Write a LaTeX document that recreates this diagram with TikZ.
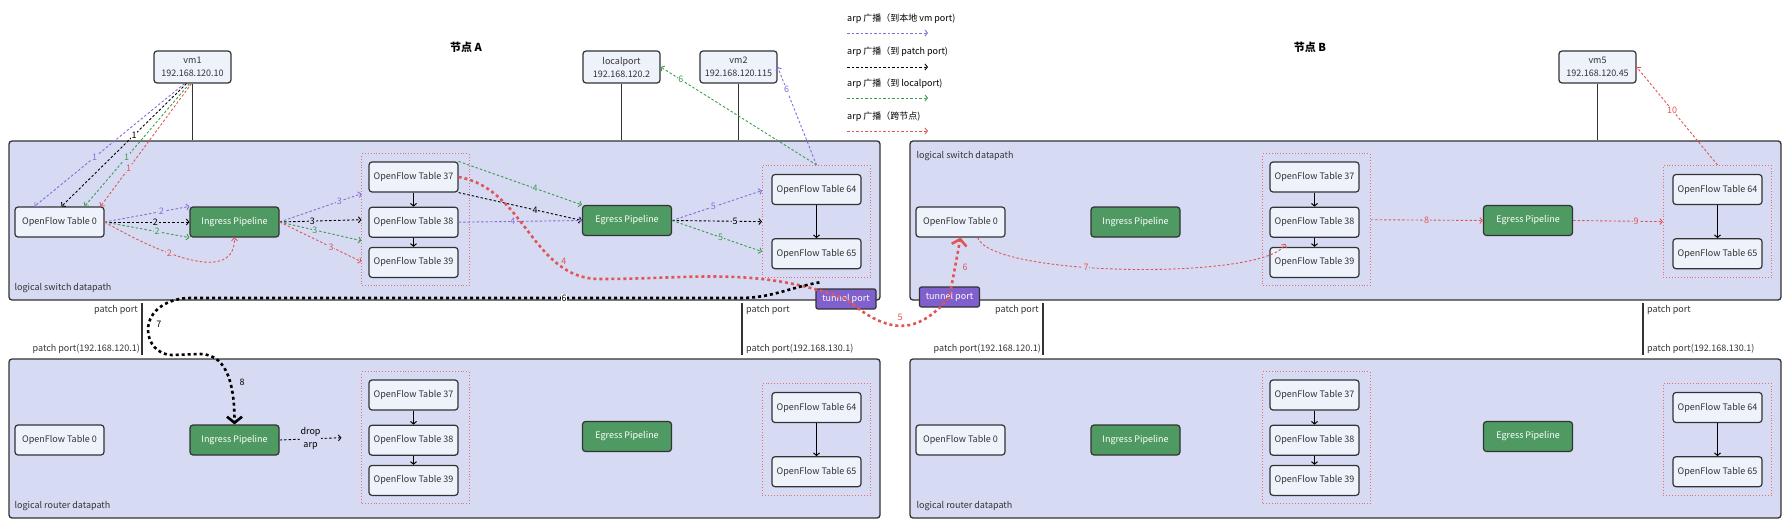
\documentclass[tikz,border=0pt]{standalone}
\usepackage{fontspec}
\setmainfont{Noto Sans CJK SC}
\usepackage{xcolor}
\usepackage{tikz}
\usetikzlibrary{arrows.meta,positioning,fit,calc}

\definecolor{dpfill}{HTML}{D6DBF3}
\definecolor{tblfill}{HTML}{EEF2FB}
\definecolor{pipefill}{HTML}{4F9A62}
\definecolor{tunfill}{HTML}{8060CC}
\definecolor{edge}{HTML}{333333}
\definecolor{arpvm}{HTML}{8A6AD8}
\definecolor{arplp}{HTML}{3D9B4C}
\definecolor{arpx}{HTML}{E25555}

\begin{document}
\begin{tikzpicture}[
    x=1pt, y=-1pt,
    font=\fontsize{9}{10.5}\selectfont,
    node distance=15pt,
    datapath/.style={rectangle, draw=edge, fill=dpfill, line width=1.3pt, rounded corners=3pt, minimum width=871pt, minimum height=159pt},
    oftable/.style={rectangle, draw=edge, fill=tblfill, line width=1.2pt, rounded corners=3pt, minimum width=89pt, minimum height=30pt, text=edge},
    pipe/.style={oftable, fill=pipefill, text=white},
    vmbox/.style={oftable, minimum width=77pt, minimum height=32pt, align=center, font=\fontsize{9}{13}\selectfont},
    tunnel/.style={rectangle, draw=edge, fill=tunfill, line width=1.2pt, rounded corners=2pt, minimum width=60pt, minimum height=20pt, inner sep=1pt, text=white},
    tblgroup/.style={rectangle, draw=arpx!85, dotted, line width=0.9pt, inner xsep=8.5pt, inner ysep=7.5pt},
    dplabel/.style={text=edge, inner sep=1pt},
    link/.style={draw=edge, line width=1.2pt},
    nextarr/.style={draw=black, line width=1pt, -{Straight Barb[length=2.5pt, width=6pt]}},
    arp/.style={line width=0.9pt, dash pattern=on 2.5pt off 2pt, -{Straight Barb[length=2.5pt, width=6pt]}},
    vmarp/.style={arp, color=arpvm},
    pparp/.style={arp, color=black},
    lparp/.style={arp, color=arplp},
    xarp/.style={arp, color=arpx},
    num/.style={fill=dpfill, inner sep=0.8pt},
    flow/.style={line width=2.6pt, dash pattern=on 3pt off 3pt, -{Straight Barb[length=6pt, width=15pt]}}
]
    \useasboundingbox (0,0) rectangle (1792,527);

    % Titles and legend
    \node[font=\fontsize{11}{13}\selectfont\bfseries] (titleA) at (466,47) {节点 A};
    \node[font=\fontsize{11}{13}\selectfont\bfseries] (titleB) at (1310,47) {节点 B};
    \node[anchor=west, inner sep=0pt] (leg1) at (847,19) {arp 广播（到本地 vm port)};
    \node[anchor=west, inner sep=0pt] (leg2) at (847,52) {arp 广播（到 patch port)};
    \node[anchor=west, inner sep=0pt] (leg3) at (847,84) {arp 广播（到 localport)};
    \node[anchor=west, inner sep=0pt] (leg4) at (847,117) {arp 广播（跨节点)};
    \coordinate (leg1a) at (847,33);  \coordinate (leg1b) at (928,33);
    \coordinate (leg2a) at (847,67);  \coordinate (leg2b) at (928,67);
    \coordinate (leg3a) at (847,98);  \coordinate (leg3b) at (928,98);
    \coordinate (leg4a) at (847,131); \coordinate (leg4b) at (928,131);
    \draw[vmarp] (leg1a) -- (leg1b);
    \draw[pparp] (leg2a) -- (leg2b);
    \draw[lparp] (leg3a) -- (leg3b);
    \draw[xarp] (leg4a) -- (leg4b);

    % Datapaths
    \node[datapath] (swA) at (444.5,220.5) {};
    \node[datapath] (swB) at (1345.5,220.5) {};
    \node[datapath] (rtA) at (444.5,438.5) {};
    \node[datapath] (rtB) at (1345.5,438.5) {};
    \node[dplabel, anchor=south west] (swAlab) at ([xshift=5pt,yshift=7pt]swA.south west) {logical switch datapath};
    \node[dplabel, anchor=north west] (swBlab) at ([xshift=6pt,yshift=-10pt]swB.north west) {logical switch datapath};
    \node[dplabel, anchor=south west] (rtAlab) at ([xshift=5pt,yshift=7pt]rtA.south west) {logical router datapath};
    \node[dplabel, anchor=south west] (rtBlab) at ([xshift=6pt,yshift=7pt]rtB.south west) {logical router datapath};

    % VMs and localport
    \node[vmbox] (vm1) at (192.5,67) {vm1\\192.168.120.10};
    \node[vmbox] (lport) at (621.5,67) {localport\\192.168.120.2};
    \node[vmbox] (vm2) at (738.5,67) {vm2\\192.168.120.115};
    \node[vmbox] (vm5) at (1597.5,67) {vm5\\192.168.120.45};
    \draw[link] (vm1.south) -- (vm1.south |- swA.north);
    \draw[link] (lport.south) -- (lport.south |- swA.north);
    \draw[link] (vm2.south) -- (vm2.south |- swA.north);
    \draw[link] (vm5.south) -- (vm5.south |- swB.north);

    % Switch A
    \node[oftable] (t0A) at (59.5,222) {OpenFlow Table 0};
    \node[pipe] (ingA) at (234.5,222) {Ingress Pipeline};
    \node[oftable] (t37A) at (413.5,177) {OpenFlow Table 37};
    \node[oftable, below=14pt of t37A] (t38A) {OpenFlow Table 38};
    \node[oftable, below=9pt of t38A] (t39A) {OpenFlow Table 39};
    \node[tblgroup, fit=(t37A)(t39A), xshift=2pt] (grpA) {};
    \node[pipe] (egA) at (627,220.5) {Egress Pipeline};
    \node[oftable] (t64A) at (816.5,189.5) {OpenFlow Table 64};
    \node[oftable, below=33pt of t64A] (t65A) {OpenFlow Table 65};
    \node[tblgroup, fit=(t64A)(t65A), inner xsep=9pt, inner ysep=8.5pt] (grp64A) {};

    % Switch B
    \node[oftable] (t0B) at (960.5,222) {OpenFlow Table 0};
    \node[pipe] (ingB) at (1135.5,222) {Ingress Pipeline};
    \node[oftable] (t37B) at (1314.5,177) {OpenFlow Table 37};
    \node[oftable, below=14pt of t37B] (t38B) {OpenFlow Table 38};
    \node[oftable, below=9pt of t38B] (t39B) {OpenFlow Table 39};
    \node[tblgroup, fit=(t37B)(t39B), xshift=2pt] (grpB) {};
    \node[pipe] (egB) at (1528,220.5) {Egress Pipeline};
    \node[oftable] (t64B) at (1717.5,189.5) {OpenFlow Table 64};
    \node[oftable, below=33pt of t64B] (t65B) {OpenFlow Table 65};
    \node[tblgroup, fit=(t64B)(t65B), inner xsep=9pt, inner ysep=8.5pt] (grp64B) {};

    % Router A
    \node[oftable] (rt0A) at (59.5,440) {OpenFlow Table 0};
    \node[pipe] (ringA) at (234.5,440) {Ingress Pipeline};
    \node[oftable] (rt37A) at (413.5,395) {OpenFlow Table 37};
    \node[oftable, below=14pt of rt37A] (rt38A) {OpenFlow Table 38};
    \node[oftable, below=9pt of rt38A] (rt39A) {OpenFlow Table 39};
    \node[tblgroup, fit=(rt37A)(rt39A), xshift=2pt] (rgrpA) {};
    \node[pipe] (regA) at (627,436.5) {Egress Pipeline};
    \node[oftable] (rt64A) at (816.5,407.5) {OpenFlow Table 64};
    \node[oftable, below=33pt of rt64A] (rt65A) {OpenFlow Table 65};
    \node[tblgroup, fit=(rt64A)(rt65A), inner xsep=9pt, inner ysep=8.5pt] (rgrp64A) {};

    % Router B
    \node[oftable] (rt0B) at (960.5,440) {OpenFlow Table 0};
    \node[pipe] (ringB) at (1135.5,440) {Ingress Pipeline};
    \node[oftable] (rt37B) at (1314.5,395) {OpenFlow Table 37};
    \node[oftable, below=14pt of rt37B] (rt38B) {OpenFlow Table 38};
    \node[oftable, below=9pt of rt38B] (rt39B) {OpenFlow Table 39};
    \node[tblgroup, fit=(rt37B)(rt39B), xshift=2pt] (rgrpB) {};
    \node[pipe] (regB) at (1528,436.5) {Egress Pipeline};
    \node[oftable] (rt64B) at (1717.5,407.5) {OpenFlow Table 64};
    \node[oftable, below=33pt of rt64B] (rt65B) {OpenFlow Table 65};
    \node[tblgroup, fit=(rt64B)(rt65B), inner xsep=9pt, inner ysep=8.5pt] (rgrp64B) {};

    % Table chains
    \draw[nextarr] (t37A) -- (t38A);   \draw[nextarr] (t38A) -- (t39A);   \draw[nextarr] (t64A) -- (t65A);
    \draw[nextarr] (t37B) -- (t38B);   \draw[nextarr] (t38B) -- (t39B);   \draw[nextarr] (t64B) -- (t65B);
    \draw[nextarr] (rt37A) -- (rt38A); \draw[nextarr] (rt38A) -- (rt39A); \draw[nextarr] (rt64A) -- (rt65A);
    \draw[nextarr] (rt37B) -- (rt38B); \draw[nextarr] (rt38B) -- (rt39B); \draw[nextarr] (rt64B) -- (rt65B);

    % Patch ports
    \coordinate (ppA1) at (142,303);  \coordinate (ppA1r) at (142,355);
    \coordinate (ppA2) at (742,303);  \coordinate (ppA2r) at (742,355);
    \coordinate (ppB1) at (1043,303); \coordinate (ppB1r) at (1043,355);
    \coordinate (ppB2) at (1643,303); \coordinate (ppB2r) at (1643,355);
    \draw[link] (ppA1) -- (ppA1r);
    \draw[link] (ppA2) -- (ppA2r);
    \draw[link] (ppB1) -- (ppB1r);
    \draw[link] (ppB2) -- (ppB2r);
    \node[dplabel, below left=1pt and 3pt of ppA1] (ppA1t) {patch port};
    \node[dplabel, above left=0pt and 1pt of ppA1r] (ppA1b) {patch port(192.168.120.1)};
    \node[dplabel, below right=1pt and 3pt of ppA2] (ppA2t) {patch port};
    \node[dplabel, above right=0pt and 3pt of ppA2r] (ppA2b) {patch port(192.168.130.1)};
    \node[dplabel, below left=1pt and 3pt of ppB1] (ppB1t) {patch port};
    \node[dplabel, above left=0pt and 1pt of ppB1r] (ppB1b) {patch port(192.168.120.1)};
    \node[dplabel, below right=1pt and 3pt of ppB2] (ppB2t) {patch port};
    \node[dplabel, above right=0pt and 3pt of ppB2r] (ppB2b) {patch port(192.168.130.1)};

    % Tunnel ports
    \node[tunnel] (tunA) at (846,299) {tunnel port};
    \node[tunnel] (tunB) at (949.5,297) {tunnel port};

    % Switch A arp broadcast
    \draw[vmarp] ([xshift=-8pt]vm1.south) -- node[num, pos=0.6] {1} ([xshift=-25pt]t0A.north);
    \draw[pparp] ([xshift=-6pt]vm1.south) -- node[num, fill=white, pos=0.42] {1} ([xshift=2pt]t0A.north);
    \draw[lparp] ([xshift=-3pt]vm1.south) -- node[num, pos=0.6] {1} ([xshift=25pt]t0A.north);
    \draw[xarp] ([xshift=-1pt]vm1.south) -- node[num, pos=0.69] {1} ([xshift=41pt]t0A.north);
    \draw[vmarp] (t0A.east) -- node[num, pos=0.67] {2} (ingA.north west);
    \draw[pparp] (t0A.east) -- node[num, pos=0.6] {2} (ingA.west);
    \draw[lparp] (t0A.east) -- node[num, pos=0.62] {2} (ingA.south west);
    \draw[xarp] (t0A.east) to[out=-30, in=-90] node[num, pos=0.4] {2} (ingA.south);
    \draw[vmarp] (ingA.east) -- node[num, pos=0.73] {3} ([yshift=26pt]grpA.west);
    \draw[pparp] (ingA.east) -- node[num, pos=0.4] {3} (grpA.west);
    \draw[lparp] (ingA.east) -- node[num, pos=0.43] {3} ([yshift=-21pt]grpA.west);
    \draw[xarp] (ingA.east) -- node[num, pos=0.63] {3} ([yshift=-42pt]grpA.west);
    \draw[lparp] (t37A.north east) -- node[num, pos=0.62] {4} (egA.north west);
    \draw[pparp] (t37A.south east) -- node[num, pos=0.62] {4} (egA.west);
    \draw[vmarp] (t38A.east) -- node[num, pos=0.44] {4} (egA.west);
    \draw[vmarp] (egA.east) -- node[num, pos=0.46] {5} ([yshift=31pt]grp64A.west);
    \draw[pparp] (egA.east) -- node[num, pos=0.7] {5} (grp64A.west);
    \draw[lparp] (egA.east) -- node[num, pos=0.54] {5} ([yshift=-30pt]grp64A.west);
    \draw[lparp] (grp64A.north) -- node[num, fill=white, pos=0.87] {6} (lport.east);
    \draw[vmarp] (grp64A.north) -- node[num, fill=white, pos=0.77] {6} (vm2.east);

    % Router A drop
    \draw[pparp] (ringA.east) -- node[num, align=center, font=\fontsize{9}{13}\selectfont] {drop\\arp} ([xshift=-20pt]rgrpA.west);

    % Switch B arp broadcast
    \draw[xarp] ([xshift=17pt]t0B.south) to[out=-70, in=-120, looseness=0.35] node[num, pos=0.4] {7} ([xshift=-29pt,yshift=3pt]t39B.north);
    \draw[xarp] (grpB.east) -- node[num] {8} (egB.west);
    \draw[xarp] (egB.east) -- node[num, pos=0.7] {9} (grp64B.west);
    \draw[xarp] (grp64B.north) -- node[num, fill=white, pos=0.56] {10} (vm5.east);

    % Cross node path
    \coordinate (bend4) at (600,279);
    \draw[flow, color=arpx] (t37A.east) to[out=-10, in=180] node[pos=0.72, right=2pt] {4} (bend4)
        to[out=0, in=160] (tunA.center)
        to[out=-40, in=-130, looseness=1.3] node[above=1pt] {5} (tunB.center)
        -- node[right=3pt] {6} (t0B.south);

    % Patch port path
    \coordinate (k1) at (740,298);
    \coordinate (k2) at (190,298);
    \coordinate (k3) at (148,330);
    \coordinate (k4) at (172,355);
    \coordinate (k5) at (200,354);
    \draw[flow, color=black] ([xshift=4pt,yshift=6pt]tunA.north west) to[out=190, in=0] (k1)
        -- node[num, fill=white, pos=0.32] {6} (k2)
        to[out=180, in=90] node[pos=0.9, right=3pt] {7} (k3)
        to[out=-90, in=180] (k4) -- (k5)
        to[out=0, in=90] node[pos=0.55, right=5pt] {8} (ringA.north);
\end{tikzpicture}
\end{document}
